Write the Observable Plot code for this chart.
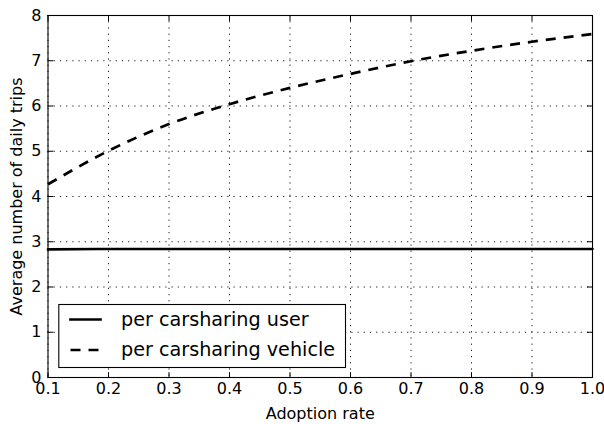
<!DOCTYPE html>
<html>
<head>
<meta charset="utf-8">
<script src="https://cdn.jsdelivr.net/npm/d3@7"></script>
<script src="https://cdn.jsdelivr.net/npm/@observablehq/plot@0.6"></script>
<style>
  html, body { margin: 0; padding: 0; background: #fff; }
</style>
</head>
<body>
<div id="chart"></div>
<script>
// Carsharing trips as a function of adoption rate
const adoptionRate = [0.1, 0.2, 0.3, 0.4, 0.5, 0.6, 0.7, 0.8, 0.9, 1.0];
const tripsPerUser = [2.83, 2.84, 2.84, 2.84, 2.84, 2.84, 2.84, 2.84, 2.84, 2.84];
const tripsPerVehicle = [4.27, 5.01, 5.60, 6.04, 6.40, 6.71, 6.99, 7.22, 7.42, 7.59];
const seriesNames = ["per carsharing user", "per carsharing vehicle"];
const xTicks = [0.1, 0.2, 0.3, 0.4, 0.5, 0.6, 0.7, 0.8, 0.9, 1.0];
const yTicks = [0, 1, 2, 3, 4, 5, 6, 7, 8];
const xLabel = "Adoption rate";
const yLabel = "Average number of daily trips";

const userRows = adoptionRate.map((r, i) => ({rate: r, trips: tripsPerUser[i]}));
const vehicleRows = adoptionRate.map((r, i) => ({rate: r, trips: tripsPerVehicle[i]}));

// plain line segment used for inward ticks and legend handles
const segment = {draw(context, l) { context.moveTo(0, 0); context.lineTo(0, -l); }};

const dotted = {stroke: "black", strokeWidth: 0.9, strokeOpacity: 1, strokeDasharray: "1.2,5"};
const tick = {length: 5, anchor: "start", shape: segment, stroke: "black", strokeWidth: 1};

const chart = Plot.plot({
  width: 604,
  height: 424,
  marginLeft: 47.5,
  marginRight: 12,
  marginTop: 15,
  marginBottom: 47,
  style: {fontFamily: "'DejaVu Sans', sans-serif", fontSize: "16px", background: "white", color: "black"},
  x: {domain: [0.1, 1.0]},
  y: {domain: [0, 8]},
  marks: [
    Plot.gridX(xTicks, dotted),
    Plot.gridY(yTicks, dotted),
    Plot.line(userRows, {x: "rate", y: "trips", stroke: "black", strokeWidth: 2.7, curve: "monotone-x"}),
    Plot.line(vehicleRows, {x: "rate", y: "trips", stroke: "black", strokeWidth: 2.7, strokeDasharray: "10,8", strokeLinecap: "butt", curve: "monotone-x"}),
    Plot.frame({stroke: "black", strokeWidth: 1.1}),
    // tick labels
    Plot.axisX(xTicks, {anchor: "bottom", tickSize: 0, tickPadding: 5, tickFormat: d3.format(".1f"), label: null, fontSize: 16}),
    Plot.axisY(yTicks, {anchor: "left", tickSize: 0, tickPadding: 6.5, tickFormat: d3.format("d"), label: null, fontSize: 16}),
    // inward ticks on all four sides
    Plot.vector(xTicks, {x: d => d, frameAnchor: "bottom", rotate: 0, ...tick}),
    Plot.vector(xTicks, {x: d => d, frameAnchor: "top", rotate: 180, ...tick}),
    Plot.vector(yTicks, {y: d => d, frameAnchor: "left", rotate: 90, ...tick}),
    Plot.vector(yTicks, {y: d => d, frameAnchor: "right", rotate: 270, ...tick}),
    // axis titles
    Plot.text([xLabel], {text: d => d, frameAnchor: "bottom", dy: 36, textAnchor: "middle", lineAnchor: "middle", fontSize: 16, fill: "black"}),
    Plot.text([yLabel], {text: d => d, frameAnchor: "left", dx: -31, rotate: -90, textAnchor: "middle", lineAnchor: "middle", fontSize: 16, fill: "black"}),
    // legend
    Plot.frame({insetLeft: 10.8, insetRight: 247, insetTop: 289, insetBottom: 10, fill: "white", stroke: "black", strokeWidth: 1.1}),
    Plot.vector([seriesNames[0]], {frameAnchor: "bottom-left", dx: 22.5, dy: -58, length: 30, rotate: 90, anchor: "start", shape: segment, stroke: "black", strokeWidth: 2.7, strokeLinecap: "square"}),
    Plot.vector([seriesNames[1]], {frameAnchor: "bottom-left", dx: 22.5, dy: -27.5, length: 30, rotate: 90, anchor: "start", shape: segment, stroke: "black", strokeWidth: 2.7, strokeDasharray: "10,8", strokeLinecap: "butt"}),
    Plot.text([seriesNames[0]], {text: d => d, frameAnchor: "bottom-left", dx: 73, dy: -58, textAnchor: "start", lineAnchor: "middle", fontSize: 19.2, fill: "black"}),
    Plot.text([seriesNames[1]], {text: d => d, frameAnchor: "bottom-left", dx: 73, dy: -27.5, textAnchor: "start", lineAnchor: "middle", fontSize: 19.2, fill: "black"})
  ]
});

document.getElementById("chart").appendChild(chart);
</script>
</body>
</html>
